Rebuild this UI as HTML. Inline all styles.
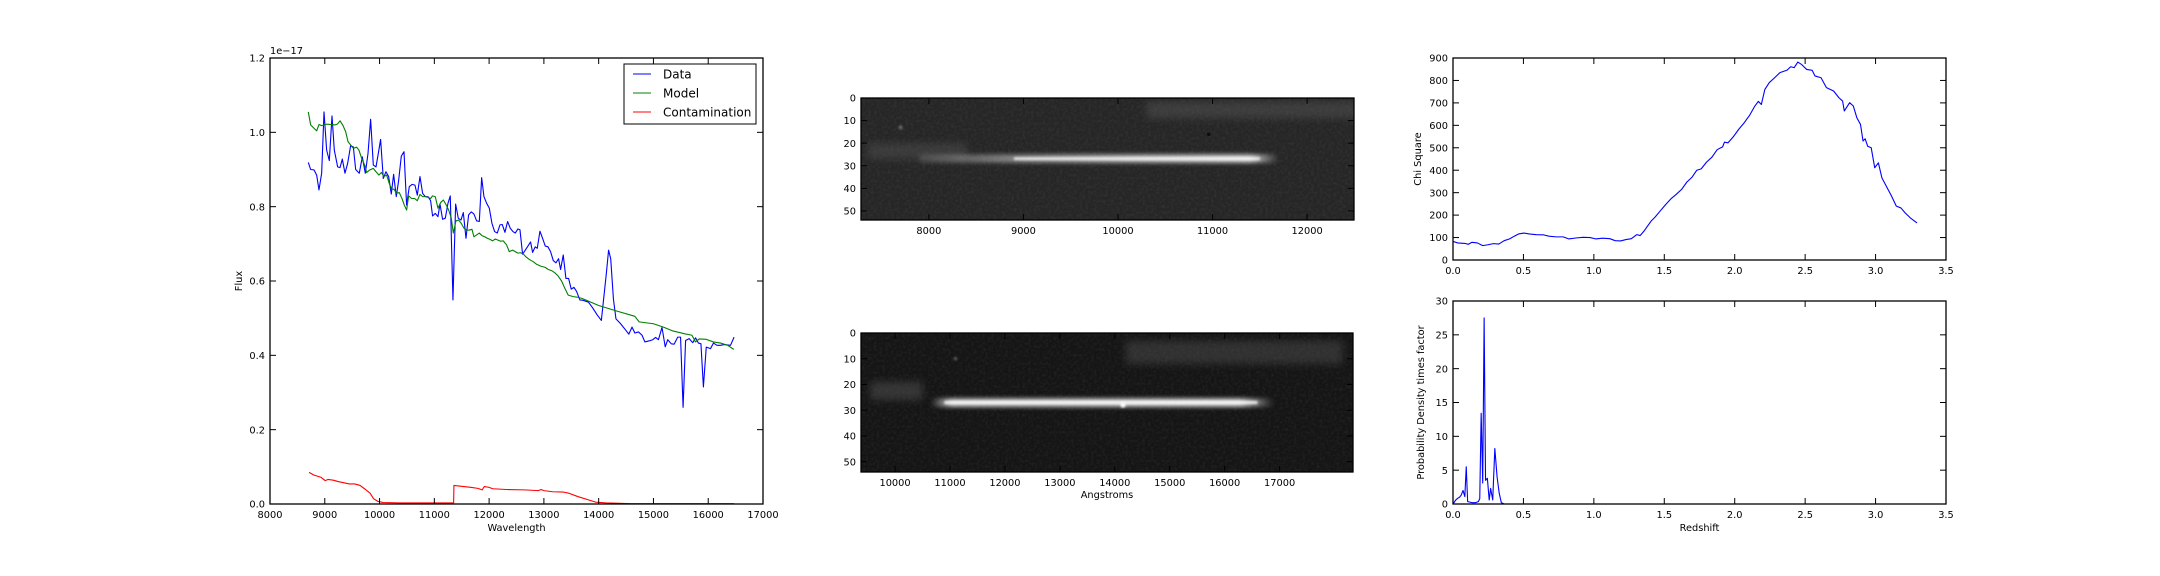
<!DOCTYPE html>
<html><head><meta charset="utf-8">
<style>
html,body{margin:0;padding:0;background:#fff;}
svg{display:block;font-family:"DejaVu Sans","Liberation Sans",sans-serif;}
</style></head>
<body>
<svg id="fig" width="2160" height="576" viewBox="0 0 2160 576" xmlns="http://www.w3.org/2000/svg">
<defs>
<filter id="noise" x="0" y="0" width="100%" height="100%">
<feTurbulence type="fractalNoise" baseFrequency="0.35" numOctaves="2" seed="4"/>
<feColorMatrix type="matrix" values="0 0 0 0 1  0 0 0 0 1  0 0 0 0 1  0.9 0 0 0 -0.35"/>
</filter>
<filter id="blur2" filterUnits="userSpaceOnUse" x="0" y="0" width="2160" height="576"><feGaussianBlur stdDeviation="2"/></filter>
<filter id="blur4" filterUnits="userSpaceOnUse" x="0" y="0" width="2160" height="576"><feGaussianBlur stdDeviation="4"/></filter>
<filter id="blur1" filterUnits="userSpaceOnUse" x="0" y="0" width="2160" height="576"><feGaussianBlur stdDeviation="1.1"/></filter>
<linearGradient id="traceTop" x1="0" x2="1" y1="0" y2="0">
<stop offset="0" stop-color="#fff" stop-opacity="0.15"/><stop offset="0.3" stop-color="#fff" stop-opacity="0.6"/><stop offset="0.6" stop-color="#fff" stop-opacity="0.85"/><stop offset="0.92" stop-color="#fff" stop-opacity="1"/><stop offset="1" stop-color="#fff" stop-opacity="0"/>
</linearGradient>
<linearGradient id="traceBot" x1="0" x2="1" y1="0" y2="0">
<stop offset="0" stop-color="#fff" stop-opacity="0"/><stop offset="0.06" stop-color="#fff" stop-opacity="0.9"/><stop offset="0.9" stop-color="#fff" stop-opacity="0.95"/><stop offset="1" stop-color="#fff" stop-opacity="0"/>
</linearGradient>
<clipPath id="clipTop"><rect x="861" y="98" width="493" height="122"/></clipPath>
<clipPath id="clipBot"><rect x="861" y="333" width="492" height="139"/></clipPath>
</defs>
<g id="layer"></g>
</svg>
<script>
// ---------- Spectrum panel data ----------
const dataWave = [8699,8742,8803,8852,8894,8943,8986,9034,9083,9132,9174,9235,9278,9320,9369,9418,9472,9521,9564,9630,9685,9740,9789,9837,9886,9935,9977,10019,10068,10117,10166,10214,10257,10305,10348,10397,10446,10494,10543,10597,10646,10689,10738,10786,10835,10884,10932,10968,11017,11066,11103,11151,11200,11249,11291,11340,11389,11437,11486,11529,11578,11626,11675,11723,11772,11821,11864,11906,11955,12003,12052,12100,12149,12198,12240,12289,12338,12386,12435,12477,12526,12563,12611,12660,12709,12757,12794,12842,12879,12928,12976,13025,13074,13122,13171,13220,13268,13305,13353,13402,13451,13499,13548,13597,13657,13717,13814,13880,13977,14049,14140,14181,14220,14270,14316,14401,14498,14551,14609,14661,14727,14792,14844,14922,14987,15039,15091,15156,15215,15261,15326,15378,15443,15495,15541,15587,15652,15717,15769,15821,15867,15912,15964,16042,16095,16160,16225,16290,16407,16472];
const dataFlux = [0.919,0.900,0.899,0.885,0.845,0.890,1.055,0.952,0.924,1.044,0.952,0.907,0.905,0.928,0.890,0.917,0.964,0.961,0.900,0.890,0.934,0.890,0.943,1.035,0.912,0.907,0.943,0.981,0.876,0.894,0.881,0.834,0.887,0.827,0.870,0.936,0.948,0.804,0.854,0.860,0.858,0.831,0.881,0.836,0.827,0.827,0.816,0.775,0.782,0.773,0.807,0.766,0.769,0.809,0.829,0.549,0.807,0.769,0.764,0.784,0.715,0.778,0.786,0.780,0.762,0.760,0.878,0.827,0.809,0.796,0.755,0.733,0.729,0.751,0.752,0.731,0.760,0.742,0.733,0.729,0.740,0.738,0.672,0.683,0.694,0.705,0.677,0.692,0.688,0.734,0.715,0.694,0.692,0.679,0.655,0.649,0.660,0.631,0.670,0.607,0.607,0.578,0.583,0.572,0.549,0.548,0.543,0.530,0.508,0.494,0.620,0.683,0.660,0.550,0.498,0.485,0.467,0.457,0.476,0.460,0.463,0.454,0.436,0.439,0.442,0.448,0.442,0.475,0.423,0.442,0.431,0.430,0.449,0.449,0.260,0.440,0.445,0.434,0.447,0.433,0.431,0.315,0.422,0.418,0.433,0.427,0.427,0.429,0.427,0.449];
const modelWave = [8699,8742,8803,8852,8894,8943,9034,9132,9186,9229,9278,9327,9381,9424,9472,9521,9582,9624,9673,9728,9764,9825,9886,9935,9990,10032,10080,10129,10178,10220,10263,10311,10360,10409,10452,10494,10531,10585,10640,10689,10738,10786,10835,10884,10932,10968,11017,11066,11115,11164,11212,11261,11310,11346,11395,11443,11492,11541,11589,11638,11687,11723,11772,11821,11870,11918,11967,12015,12064,12113,12161,12210,12258,12319,12368,12429,12477,12526,12574,12623,12672,12733,12806,12867,12940,13019,13080,13140,13201,13262,13323,13383,13444,13536,13627,13700,14000,14335,14661,14739,15000,15182,15345,15573,15703,15769,15834,15964,16095,16225,16355,16466];
const modelFlux = [1.055,1.020,1.011,1.004,1.021,1.018,1.022,1.021,1.020,1.022,1.031,1.020,1.002,0.975,0.966,0.957,0.960,0.952,0.930,0.912,0.892,0.899,0.903,0.894,0.885,0.892,0.881,0.885,0.862,0.847,0.847,0.836,0.838,0.822,0.804,0.791,0.829,0.822,0.822,0.816,0.833,0.827,0.827,0.825,0.822,0.829,0.827,0.796,0.811,0.818,0.806,0.791,0.769,0.729,0.762,0.764,0.755,0.742,0.737,0.737,0.739,0.719,0.724,0.729,0.722,0.719,0.715,0.712,0.708,0.713,0.710,0.707,0.708,0.697,0.679,0.683,0.679,0.675,0.676,0.673,0.665,0.658,0.652,0.645,0.640,0.637,0.631,0.628,0.622,0.613,0.600,0.580,0.562,0.558,0.556,0.553,0.534,0.519,0.505,0.490,0.485,0.476,0.466,0.458,0.454,0.436,0.444,0.443,0.436,0.433,0.427,0.416];
const contWave = [8713,8798,8928,9006,9058,9156,9254,9384,9449,9547,9645,9743,9827,9892,9970,10068,10361,11352,11358,11534,11664,11795,11873,11912,11990,12068,12316,12642,12902,12948,13000,13163,13358,13456,13619,13814,13945,14140,14596,16472];
const contFlux = [0.085,0.078,0.072,0.063,0.066,0.064,0.060,0.056,0.054,0.054,0.050,0.039,0.029,0.014,0.007,0.004,0.003,0.003,0.050,0.047,0.045,0.042,0.038,0.047,0.045,0.041,0.039,0.038,0.036,0.039,0.036,0.033,0.032,0.029,0.020,0.011,0.005,0.003,0.001,0.001];
const specXTicks = [8000,9000,10000,11000,12000,13000,14000,15000,16000,17000];
const specYTicks = [0.0,0.2,0.4,0.6,0.8,1.0,1.2];
const specYLabels = ["0.0","0.2","0.4","0.6","0.8","1.0","1.2"];
// ---------- Chi-square panel data ----------
const chiZ = [0,0.033,0.084,0.109,0.135,0.173,0.211,0.249,0.287,0.325,0.363,0.402,0.435,0.465,0.503,0.541,0.592,0.643,0.681,0.732,0.783,0.821,0.872,0.923,0.974,1.012,1.063,1.113,1.152,1.190,1.228,1.266,1.304,1.329,1.355,1.380,1.406,1.436,1.469,1.507,1.546,1.584,1.622,1.660,1.698,1.731,1.762,1.800,1.838,1.876,1.914,1.927,1.952,1.990,2.028,2.067,2.105,2.143,2.168,2.189,2.214,2.245,2.283,2.321,2.372,2.397,2.422,2.448,2.473,2.511,2.550,2.570,2.613,2.651,2.702,2.740,2.766,2.778,2.816,2.842,2.867,2.893,2.911,2.926,2.944,2.969,2.994,3.020,3.045,3.083,3.114,3.147,3.180,3.210,3.248,3.294];
const chiVal = [83,76,74,70,79,76,64,68,73,71,86,94,106,116,120,116,113,112,106,103,103,94,98,101,100,94,97,95,86,85,91,95,113,109,128,150,173,192,217,245,272,292,314,347,370,400,406,436,458,492,504,525,522,549,582,611,644,686,707,693,760,790,812,835,846,861,857,882,872,849,845,820,812,768,753,723,708,664,701,686,634,604,530,540,507,500,411,433,366,321,284,240,232,210,187,165];
const chiYTicks = [0,100,200,300,400,500,600,700,800,900];
// ---------- Probability panel data ----------
const probZ = [0,0.02,0.033,0.046,0.058,0.071,0.084,0.094,0.104,0.135,0.16,0.18,0.19,0.20,0.211,0.221,0.231,0.244,0.257,0.267,0.282,0.297,0.313,0.328,0.343,0.363,3.294];
const probVal = [0,0.6,0.84,1.0,1.3,2.0,1.1,5.5,0.35,0.2,0.2,0.35,0.8,13.4,3.1,27.5,3.5,3.8,0.6,2.3,0.6,8.2,4.0,1.6,0.2,0,0];
const probYTicks = [0,5,10,15,20,25,30];
const zTicks = [0.0,0.5,1.0,1.5,2.0,2.5,3.0,3.5];
const zLabels = ["0.0","0.5","1.0","1.5","2.0","2.5","3.0","3.5"];
// ---------- Image panel ticks ----------
const imgTopXTicks = [8000,9000,10000,11000,12000];
const imgBotXTicks = [10000,11000,12000,13000,14000,15000,16000,17000];
const imgYTicks = [0,10,20,30,40,50];

const NS = "http://www.w3.org/2000/svg";
const layer = document.getElementById('layer');
function mk(tag, attrs, parent){
  const e = document.createElementNS(NS, tag);
  for (const k in attrs) e.setAttribute(k, attrs[k]);
  (parent||layer).appendChild(e);
  return e;
}
function scale(d0,d1,r0,r1){ return v => r0 + (v-d0)/(d1-d0)*(r1-r0); }
const FS = 9.8;

function axesFrame(name, L,T,R,B, xs, ys, xTicks, xLabels, yTicks, yLabels, tickColor){
  const g = mk('g', {});
  
  
  const tc = tickColor || '#000';
  xTicks.forEach((t,i)=>{
    const x = xs(t);
    mk('line',{x1:x,y1:B,x2:x,y2:B-6,stroke:tc,'stroke-width':1},g);
    mk('line',{x1:x,y1:T,x2:x,y2:T+6,stroke:tc,'stroke-width':1},g);
    const lb = mk('text',{x:x,y:B+14,'font-size':FS,'text-anchor':'middle',fill:'#000'},g);
    lb.textContent = xLabels ? xLabels[i] : String(t);
    
    
  });
  yTicks.forEach((t,i)=>{
    const y = ys(t);
    mk('line',{x1:L,y1:y,x2:L+6,y2:y,stroke:tc,'stroke-width':1},g);
    mk('line',{x1:R,y1:y,x2:R-6,y2:y,stroke:tc,'stroke-width':1},g);
    const lb = mk('text',{x:L-5,y:y+3.6,'font-size':FS,'text-anchor':'end',fill:'#000'},g);
    lb.textContent = yLabels ? yLabels[i] : String(t);
    
    
  });
  mk('rect',{x:L,y:T,width:R-L,height:B-T,fill:'none',stroke:'#000','stroke-width':1.3},g);
  return g;
}
function line(name, xs, ys, X, Y, color){
  let d='';
  for(let i=0;i<X.length;i++) d += (i?'L':'M') + xs(X[i]).toFixed(2)+','+ys(Y[i]).toFixed(2);
  const p = mk('path',{d:d,fill:'none',stroke:color,'stroke-width':1.1,'stroke-linejoin':'round'});
  
  
  return p;
}
function label(name, txt, x, y, rot, fs){
  const t = mk('text',{x:x,y:y,'font-size':fs||FS,'text-anchor':'middle',fill:'#000'});
  if(rot) t.setAttribute('transform','rotate(-90 '+x+' '+y+')');
  t.textContent = txt;
  
  
  return t;
}

// ===== Spectrum panel =====
{
  const L=270,T=58,R=763,B=504;
  const xs = scale(8000,17000,L,R), ys = scale(0,1.2,B,T);
  line('contamination-line', xs, ys, contWave, contFlux, '#ff0000');
  line('data-line', xs, ys, dataWave, dataFlux, '#0000ff');
  line('model-line', xs, ys, modelWave, modelFlux, '#008000');
  axesFrame('spectrum-axes', L,T,R,B, xs, ys, specXTicks, null, specYTicks, specYLabels);
  label('x-axis-title', 'Wavelength', (L+R)/2, 531);
  label('y-axis-title', 'Flux', 242, (T+B)/2, true);
  const off = mk('text',{x:270,y:54,'font-size':FS,fill:'#000'});
  off.textContent = '1e\u221217';
  
  
  const lg = mk('g',{});
  
  
  mk('rect',{x:624,y:64,width:132,height:60,fill:'#fff',stroke:'#000','stroke-width':1},lg);
  const entries = [['Data','#0000ff'],['Model','#008000'],['Contamination','#ff0000']];
  entries.forEach((e,i)=>{
    const y = 74 + i*19;
    const it = mk('g',{},lg);
    
    
    mk('line',{x1:633,y1:y,x2:651,y2:y,stroke:e[1],'stroke-width':1.1},it);
    const t = mk('text',{x:663,y:y+4.3,'font-size':12,fill:'#000'},it);
    t.textContent = e[0];
  });
}

// ===== 2D spectrum images =====
function spectrumImage(name, L,T,R,B, clip, bg, xs, ys, parts){
  const g = mk('g',{'clip-path':'url(#'+clip+')'});
  
  
  mk('rect',{x:L,y:T,width:R-L,height:B-T,fill:bg},g);
  mk('rect',{x:L,y:T,width:R-L,height:B-T,filter:'url(#noise)',opacity:0.12},g);
  parts(g, xs, ys);
  return g;
}
{
  const L=861,T=98,R=1354,B=220;
  const xs = scale(7282,12496,L,R), ys = scale(0,54,T,B);
  spectrumImage('direct-spectrum-image-top', L,T,R,B,'clipTop','#262626', xs, ys, (g,xs,ys)=>{
    mk('rect',{x:xs(10300),y:ys(1.5),width:xs(12700)-xs(10300),height:ys(9)-ys(1.5),fill:'#666',opacity:0.35,filter:'url(#blur4)'},g);
    mk('rect',{x:xs(7350),y:ys(20),width:xs(8400)-xs(7350),height:ys(27)-ys(20),fill:'#555',opacity:0.45,filter:'url(#blur4)'},g);
    mk('rect',{x:xs(7900),y:ys(25),width:xs(11700)-xs(7900),height:ys(28.6)-ys(25),fill:'url(#traceTop)',opacity:0.8,filter:'url(#blur2)'},g);
    mk('rect',{x:xs(8900),y:ys(26.2),width:xs(11500)-xs(8900),height:ys(27.5)-ys(26.2),fill:'#fff',opacity:0.75,filter:'url(#blur1)'},g);
    mk('circle',{cx:xs(10960),cy:ys(16),r:1.8,fill:'#000',opacity:0.7},g);
    mk('circle',{cx:xs(7700),cy:ys(13),r:1.8,fill:'#777',filter:'url(#blur1)'},g);
  });
  axesFrame('image-top-axes', L,T,R,B, xs, ys, imgTopXTicks, null, imgYTicks, null);
}
{
  const L=861,T=333,R=1353,B=472;
  const xs = scale(9380,18336,L,R), ys = scale(0,54,T,B);
  spectrumImage('direct-spectrum-image-bottom', L,T,R,B,'clipBot','#151515', xs, ys, (g,xs,ys)=>{
    mk('rect',{x:xs(14200),y:ys(3),width:xs(18150)-xs(14200),height:ys(12)-ys(3),fill:'#5a5a5a',opacity:0.4,filter:'url(#blur4)'},g);
    mk('rect',{x:xs(9550),y:ys(19),width:xs(10500)-xs(9550),height:ys(26)-ys(19),fill:'#555',opacity:0.5,filter:'url(#blur4)'},g);
    mk('rect',{x:xs(10650),y:ys(25.4),width:xs(16900)-xs(10650),height:ys(28.7)-ys(25.4),fill:'url(#traceBot)',opacity:0.85,filter:'url(#blur2)'},g);
    mk('rect',{x:xs(10900),y:ys(26.4),width:xs(16600)-xs(10900),height:ys(27.6)-ys(26.4),fill:'#fff',opacity:0.8,filter:'url(#blur1)'},g);
    mk('circle',{cx:xs(14150),cy:ys(28),r:2.5,fill:'#fff',filter:'url(#blur1)'},g);
    mk('circle',{cx:xs(11100),cy:ys(10),r:1.6,fill:'#666',filter:'url(#blur1)'},g);
  });
  axesFrame('image-bottom-axes', L,T,R,B, xs, ys, imgBotXTicks, null, imgYTicks, null);
  label('image-x-axis-title', 'Angstroms', (L+R)/2, 498);
}

// ===== Chi square panel =====
{
  const L=1453,T=58,R=1946,B=260;
  const xs = scale(0,3.5,L,R), ys = scale(0,900,B,T);
  line('chi-square-line', xs, ys, chiZ, chiVal, '#0000ff');
  axesFrame('chi-square-axes', L,T,R,B, xs, ys, zTicks, zLabels, chiYTicks, null);
  label('chi-y-axis-title', 'Chi Square', 1421, (T+B)/2, true);
}
// ===== Probability panel =====
{
  const L=1453,T=301,R=1946,B=504;
  const xs = scale(0,3.5,L,R), ys = scale(0,30,B,T);
  line('probability-line', xs, ys, probZ, probVal, '#0000ff');
  axesFrame('probability-axes', L,T,R,B, xs, ys, zTicks, zLabels, probYTicks, null);
  label('prob-y-axis-title', 'Probability Density times factor', 1424, (T+B)/2, true);
  label('redshift-axis-title', 'Redshift', (L+R)/2, 531);
}
</script>
</body></html>
